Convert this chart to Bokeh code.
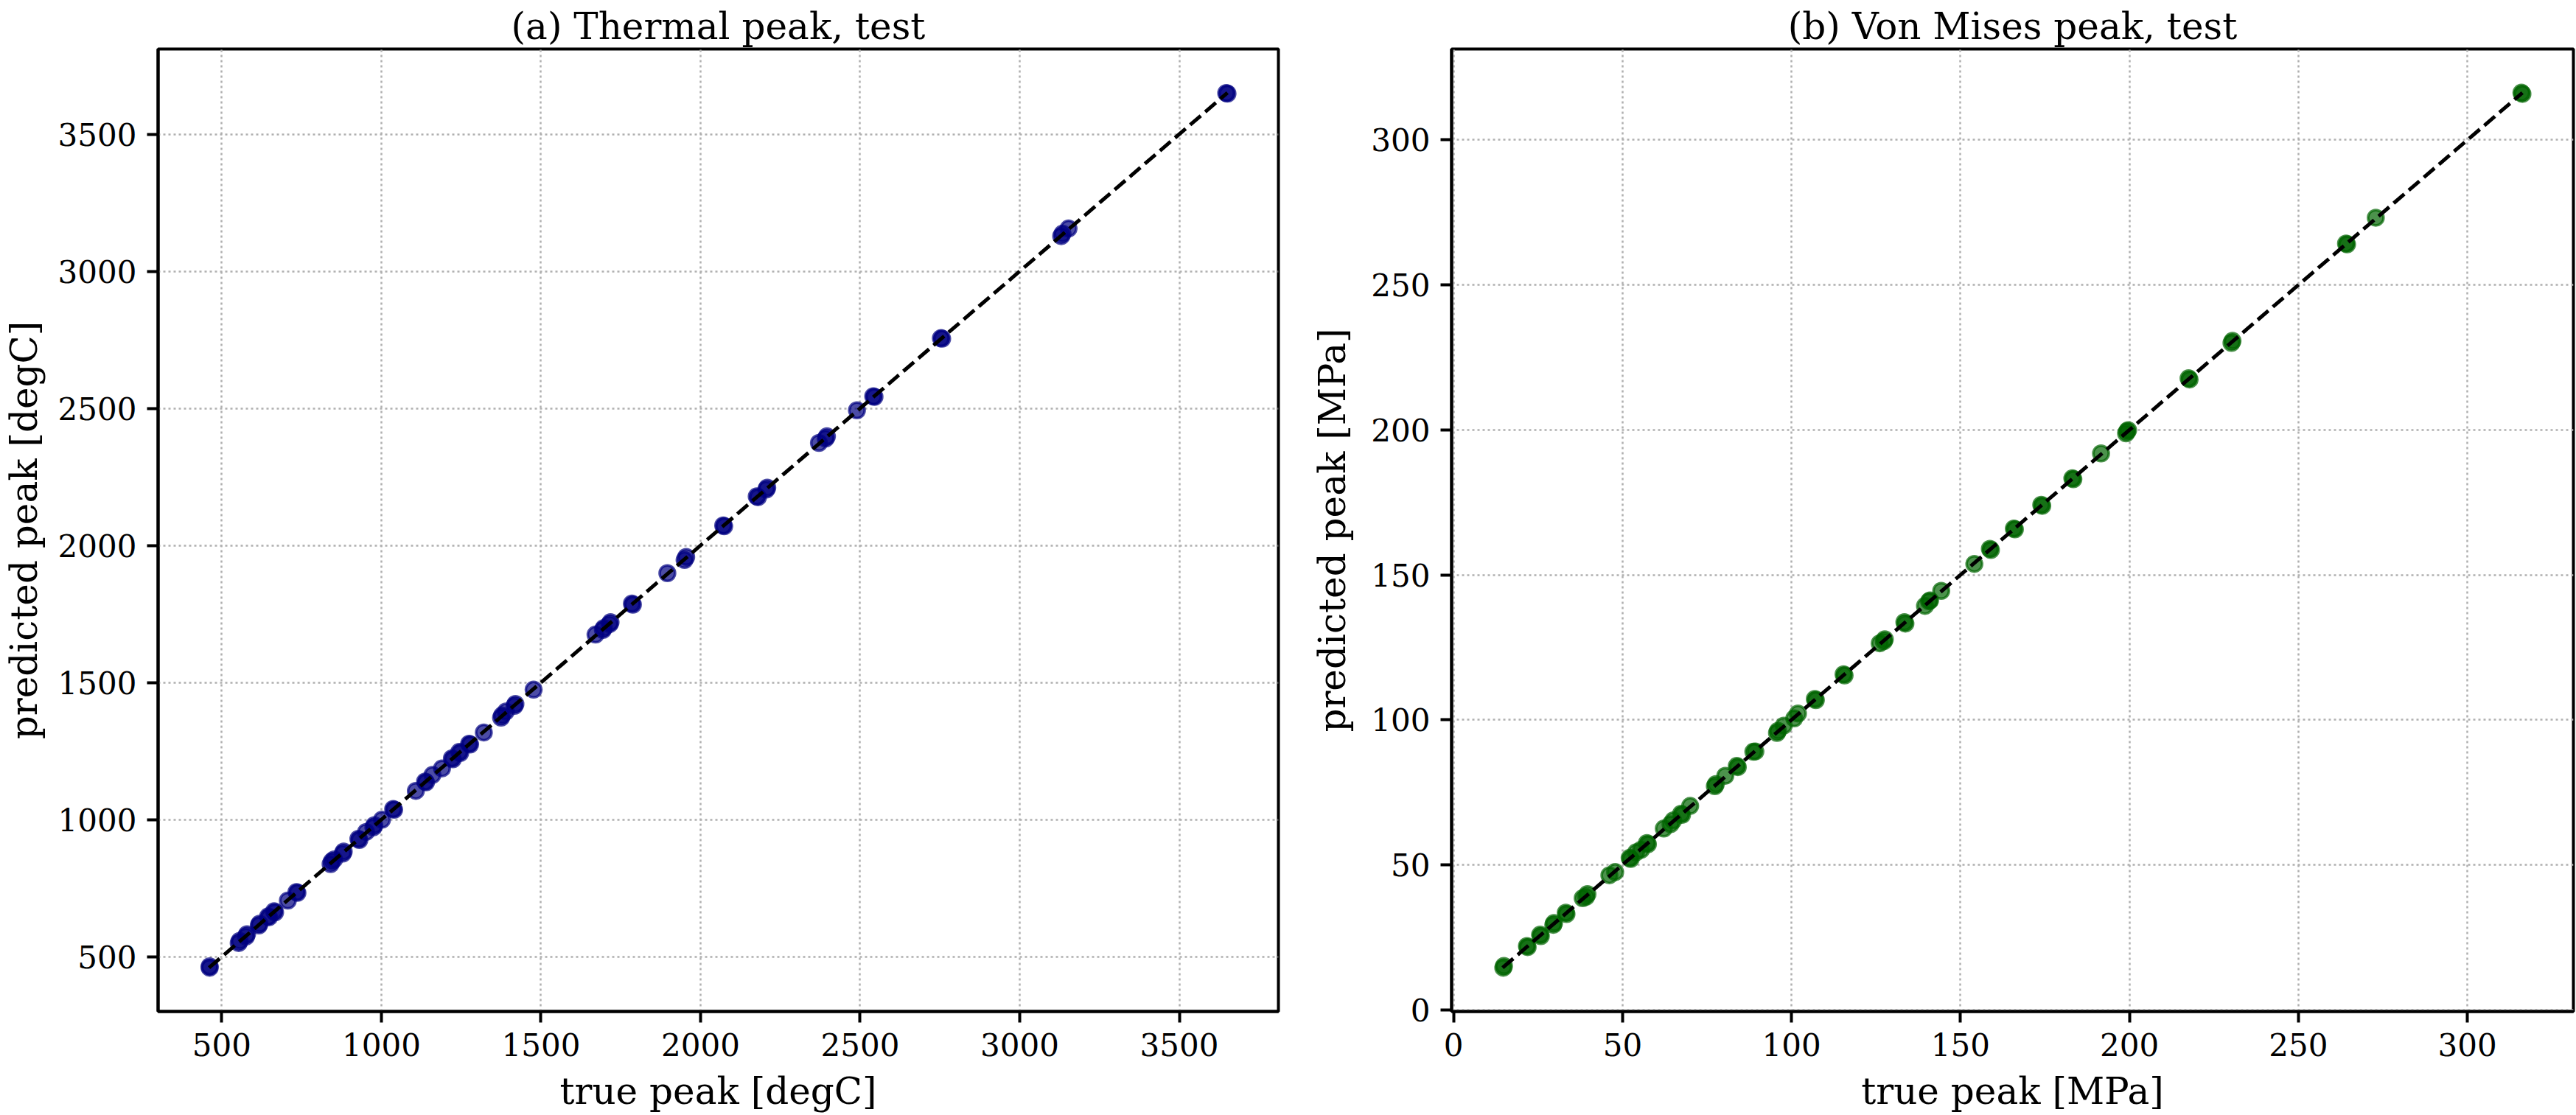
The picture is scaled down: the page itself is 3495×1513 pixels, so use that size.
from bokeh.plotting import figure
from bokeh.layouts import row
from bokeh.models import Range1d, FixedTicker
from bokeh.embed import file_html
from bokeh.resources import INLINE

# ---- data ----
thermal_true = [462, 462, 553, 556, 576, 579, 616, 618, 645, 648, 664, 667, 707,
                734, 737, 841, 845, 852, 879, 882, 928, 931, 952, 975, 978, 1002,
                1037, 1040, 1108, 1137, 1140, 1160, 1190, 1221, 1224, 1244, 1247,
                1275, 1278, 1321, 1375, 1378, 1390, 1417, 1420, 1477, 1671, 1694,
                1697, 1715, 1718, 1785, 1788, 1896, 1950, 1955, 2071, 2074, 2176,
                2180, 2206, 2209, 2371, 2392, 2396, 2490, 2541, 2545, 2753, 2757,
                3130, 3134, 3153, 3647, 3651]
thermal_pred = [460, 465, 550, 558, 574, 582, 614, 620, 647, 644, 666, 662, 705,
                736, 733, 838, 848, 855, 876, 884, 930, 926, 955, 972, 980, 1000,
                1039, 1036, 1105, 1139, 1136, 1163, 1187, 1224, 1220, 1247, 1243,
                1277, 1274, 1318, 1372, 1380, 1394, 1415, 1422, 1474, 1675, 1692,
                1699, 1713, 1720, 1788, 1784, 1899, 1947, 1958, 2073, 2070, 2179,
                2176, 2204, 2211, 2374, 2390, 2398, 2493, 2544, 2542, 2756, 2754,
                3128, 3137, 3156, 3650, 3648]

vm_true = [14.7, 14.9, 21.7, 21.9, 25.6, 25.8, 29.5, 29.7, 33.2, 33.4, 38.2, 39.2,
           39.6, 46.1, 47.8, 52.1, 52.4, 54.0, 55.5, 57.2, 57.5, 62.2, 64.2, 65.0,
           67.3, 67.6, 70.0, 77.3, 77.6, 80.4, 83.8, 84.1, 88.7, 89.3, 95.7, 96.0,
           97.7, 100.8, 101.9, 106.9, 107.2, 115.4, 115.7, 126.1, 127.3, 127.6,
           133.4, 133.7, 139.5, 141.0, 140.7, 144.3, 154.1, 158.7, 159.0, 165.8,
           166.1, 173.9, 174.2, 183.1, 183.4, 191.6, 199.0, 199.3, 199.6, 217.5,
           217.8, 230.2, 230.5, 264.1, 264.4, 272.9, 316.0, 316.3]
vm_pred = [14.5, 15.1, 22.0, 21.6, 25.9, 25.4, 29.3, 29.9, 33.5, 33.0, 38.5, 39.0,
           39.9, 46.4, 47.5, 52.4, 52.0, 54.3, 55.2, 57.5, 57.1, 62.5, 64.0, 65.3,
           67.6, 67.2, 70.3, 77.1, 77.8, 80.7, 84.1, 83.7, 89.0, 89.1, 95.5, 96.2,
           98.0, 100.5, 102.2, 107.2, 106.8, 115.7, 115.3, 126.4, 127.1, 127.8,
           133.7, 133.2, 139.3, 141.2, 140.9, 144.5, 153.8, 159.0, 158.6, 166.0,
           165.7, 174.2, 173.8, 183.3, 183.0, 191.9, 198.8, 199.5, 199.9, 217.8,
           217.4, 230.0, 230.7, 264.3, 264.0, 273.2, 316.3, 315.9]

thermal_ticks = [500, 1000, 1500, 2000, 2500, 3000, 3500]
vm_ticks = [0, 50, 100, 150, 200, 250, 300]

titles = ["(a) Thermal peak, test", "(b) Von Mises peak, test"]
xlabels = ["true peak [degC]", "true peak [MPa]"]
ylabels = ["predicted peak [degC]", "predicted peak [MPa]"]

FONT = "DejaVu Serif"


def padded(vals):
    lo, hi = min(vals), max(vals)
    m = (hi - lo) * 0.05
    return Range1d(lo - m, hi + m)


def make(title, xlabel, ylabel, xs, ys, color, ticks, width, left, right, ylab_standoff):
    lo = min(min(xs), min(ys))
    hi = max(max(xs), max(ys))
    p = figure(width=width, height=1513, output_backend="svg", toolbar_location=None,
               x_range=padded(list(xs) + [lo, hi]), y_range=padded(list(ys) + [lo, hi]),
               min_border_left=left, min_border_right=right,
               min_border_top=66, min_border_bottom=141)
    p.title.text = title
    p.title.text_font = FONT
    p.title.text_font_size = "50px"
    p.title.text_font_style = "normal"
    p.title.text_color = "black"
    p.title.align = "center"
    p.title.standoff = 4
    p.outline_line_color = "black"
    p.outline_line_width = 4
    p.outline_line_alpha = 1
    for ax in (p.xaxis[0], p.yaxis[0]):
        ax.ticker = FixedTicker(ticks=ticks)
        ax.axis_line_width = 4
        ax.major_tick_line_width = 4
        ax.major_tick_out = 15
        ax.major_tick_in = 0
        ax.minor_tick_line_color = None
        ax.major_label_text_font = FONT
        ax.major_label_text_font_size = "42px"
        ax.major_label_text_color = "black"
        ax.major_label_standoff = 14
        ax.axis_label_text_font = FONT
        ax.axis_label_text_font_size = "50px"
        ax.axis_label_text_font_style = "normal"
        ax.axis_label_text_color = "black"
        ax.axis_label_standoff = 16
    p.yaxis[0].axis_label_standoff = ylab_standoff
    p.xaxis.axis_label = xlabel
    p.yaxis.axis_label = ylabel
    p.grid.grid_line_color = "#b0b0b0"
    p.grid.grid_line_dash = "3 4"
    p.grid.grid_line_width = 2.5
    p.scatter(xs, ys, size=21, fill_color=color, line_color=color,
              fill_alpha=0.7, line_alpha=0.7, line_width=3.5)
    p.line([lo, hi], [lo, hi], line_color="black", line_width=5, line_dash="19 8")
    return p


p1 = make(titles[0], xlabels[0], ylabels[0], thermal_true, thermal_pred, "#000080",
          thermal_ticks, 1760, 211, 26, 14)
p2 = make(titles[1], xlabels[1], ylabels[1], vm_true, vm_pred, "#006400",
          vm_ticks, 1735, 209, 4, 20)

layout = row(p1, p2)
open("out.html", "w").write(file_html(layout, INLINE))
